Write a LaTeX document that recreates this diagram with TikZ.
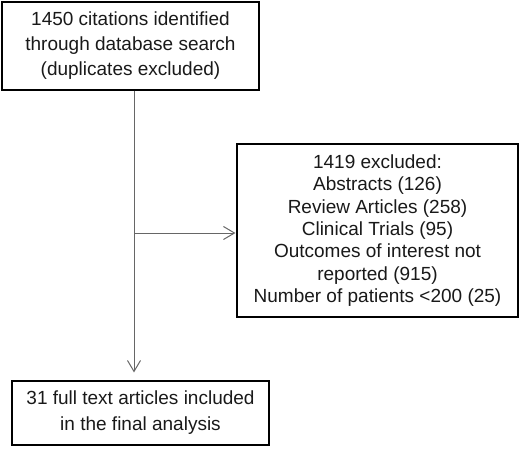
\documentclass[tikz,border=0pt]{standalone}
\usepackage{fontspec}
\setmainfont{Liberation Sans}
\usetikzlibrary{positioning,arrows.meta}

\begin{document}
\begin{tikzpicture}[x=1pt,y=-1pt,>={Straight Barb[length=11pt,width=13pt]},
  box/.style={draw=black,line width=1.1pt,align=center,inner sep=0pt,text=black!90,
    font=\fontsize{19}{25}\selectfont},
  flow/.style={->,draw=black!60,line width=1pt}]
\useasboundingbox (0,0) rectangle (520,448);
\node[box,minimum width=257pt,minimum height=88pt] (Search) at (130.5,46)
  {1450 citations identified\\through database search\\(duplicates excluded)};
\node[box,minimum width=281pt,minimum height=173pt,
  font=\fontsize{19}{22.3}\selectfont] (Excl) at (377.5,230.5)
  {1419 excluded:\\Abstracts (126)\\Review Articles (258)\\Clinical Trials (95)\\
   Outcomes of interest not\\reported (915)\\Number of patients <200 (25)};
\node[box,minimum width=257pt,minimum height=64pt,
  font=\fontsize{19}{26}\selectfont] (Final) at (140.5,413)
  {31 full text articles included\\in the final analysis};
\coordinate (Split) at (134,233);

\draw[flow,shorten >=8pt] (Search.south -| Split) -- (Final.north -| Split);
\draw[flow,shorten >=1pt] (Split) -- (Excl.west |- Split);
\end{tikzpicture}
\end{document}
